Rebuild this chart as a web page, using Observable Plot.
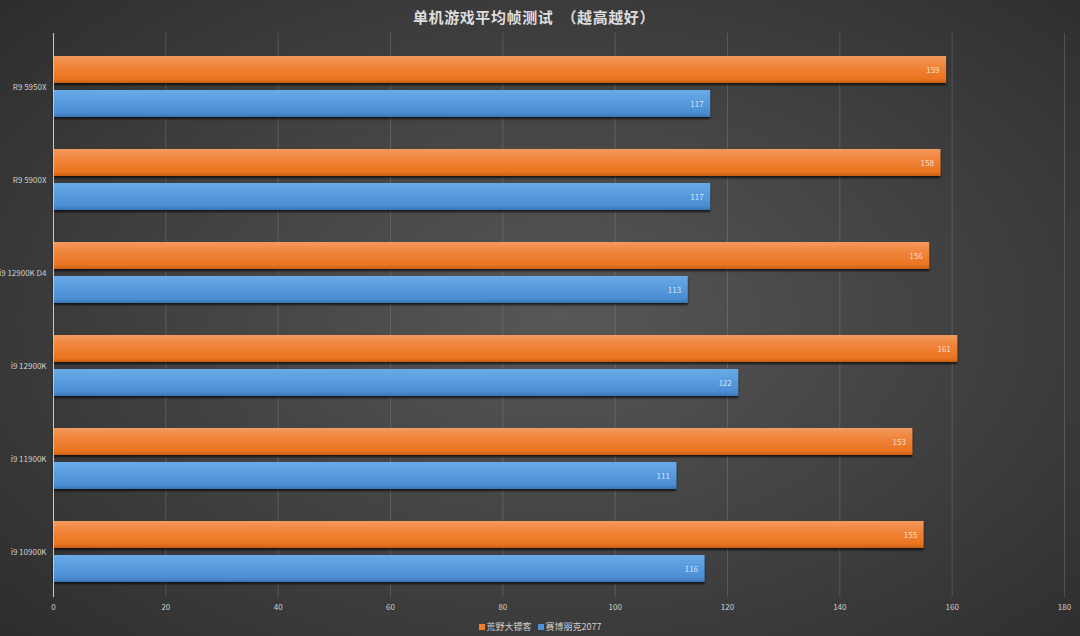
<!DOCTYPE html>
<html>
<head>
<meta charset="utf-8">
<script src="https://cdn.jsdelivr.net/npm/d3@7"></script>
<script src="https://cdn.jsdelivr.net/npm/@observablehq/plot@0.6"></script>
<style>
  html, body { margin: 0; padding: 0; }
  #wrap {
    width: 1080px; height: 636px; position: relative; overflow: hidden;
    background: radial-gradient(ellipse 70% 75% at 52% 50%, #575757 0%, #444 45%, #2d2d2d 100%);
    font-family: "Noto Sans CJK SC", "Noto Sans", sans-serif;
  }
  #title {
    height: 33px; line-height: 33px; text-align: center; color: #dedede;
    font-size: 15px; font-weight: bold; letter-spacing: 0.6px; padding-right: 12px;
  }
  #chart svg { display: block; background: transparent; }
  #legend {
    height: 18px; line-height: 18px; text-align: center; color: #cfcfcf; font-size: 9px;
  }
  #legend span.sw { display: inline-block; width: 6px; height: 6px; margin-right: 2px; }
  #legend span.item { margin: 0 3px; }
</style>
</head>
<body>
<div id="wrap">
  <div id="title"></div>
  <div id="chart"></div>
  <div id="legend"></div>
</div>
<script>
const titleText = "单机游戏平均帧测试　（越高越好）";
const categories = ["R9 5950X", "R9 5900X", "i9 12900K D4", "i9 12900K", "i9 11900K", "i9 10900K"];
const series = ["荒野大镖客", "赛博朋克2077"];
const rdr2 = [159, 158, 156, 161, 153, 155];
const cp2077 = [117, 117, 113, 122, 111, 116];
const xTicks = [0, 20, 40, 60, 80, 100, 120, 140, 160, 180];
const seriesColors = ["#ee7b2d", "#4f93d6"];

document.getElementById("title").textContent = titleText;

const dataA = categories.map((c, i) => ({category: c, value: rdr2[i], series: series[0]}));
const dataB = categories.map((c, i) => ({category: c, value: cp2077[i], series: series[1]}));

const chart = Plot.plot({
  width: 1080,
  height: 585,
  marginTop: 0,
  marginBottom: 21,
  marginLeft: 53,
  marginRight: 16,
  style: {background: "transparent", color: "#cfcfcf", fontSize: "8px", fontFamily: "'Noto Sans CJK SC', 'Noto Sans', sans-serif"},
  x: {domain: [0, 180], ticks: xTicks, tickSize: 0, tickPadding: 7, label: null, grid: false},
  y: {domain: categories, paddingInner: 0.348, paddingOuter: 0.187, align: 0.6, tickSize: 0, tickPadding: 7, label: null},
  marks: [
    Plot.ruleX(xTicks.slice(1), {stroke: "#909090", strokeOpacity: 0.35, strokeWidth: 1}),
    Plot.barX(dataA, {x: "value", y: "category", fill: "url(#gOrange)", insetBottom: 34}),
    Plot.barX(dataB, {x: "value", y: "category", fill: "url(#gBlue)", insetTop: 34}),
    Plot.ruleX([0], {stroke: "#c8c8c8", strokeWidth: 1}),
    Plot.text(dataA, {x: "value", y: "category", text: d => String(d.value), dy: -17, dx: -7, textAnchor: "end", fill: "#ffffff", fillOpacity: 0.75, fontSize: 8}),
    Plot.text(dataB, {x: "value", y: "category", text: d => String(d.value), dy: 17, dx: -7, textAnchor: "end", fill: "#ffffff", fillOpacity: 0.75, fontSize: 8})
  ]
});

const svg = d3.select(chart);
const defs = svg.insert("defs", ":first-child");
function grad(id, stops) {
  const g = defs.append("linearGradient").attr("id", id).attr("x1", 0).attr("y1", 0).attr("x2", 0).attr("y2", 1);
  stops.forEach(([o, c]) => g.append("stop").attr("offset", o).attr("stop-color", c));
}
grad("gOrange", [[0, "#f39a5e"], [0.35, "#f0853c"], [0.85, "#ea7420"], [1, "#c85f14"]]);
grad("gBlue", [[0, "#6aaae6"], [0.35, "#5b9fe0"], [0.85, "#4a8cd2"], [1, "#3a74b4"]]);
const f = defs.append("filter").attr("id", "shadow").attr("x", "-5%").attr("y", "-30%").attr("width", "110%").attr("height", "170%");
f.append("feDropShadow").attr("dx", 0).attr("dy", 2).attr("stdDeviation", 1.2).attr("flood-color", "#000").attr("flood-opacity", 0.7);
svg.selectAll("g[aria-label='bar']").attr("filter", "url(#shadow)");

document.getElementById("chart").appendChild(chart);

const legend = document.getElementById("legend");
series.forEach((s, i) => {
  const item = document.createElement("span");
  item.className = "item";
  const sw = document.createElement("span");
  sw.className = "sw";
  sw.style.background = seriesColors[i];
  item.appendChild(sw);
  item.appendChild(document.createTextNode(s));
  legend.appendChild(item);
});
</script>
</body>
</html>
